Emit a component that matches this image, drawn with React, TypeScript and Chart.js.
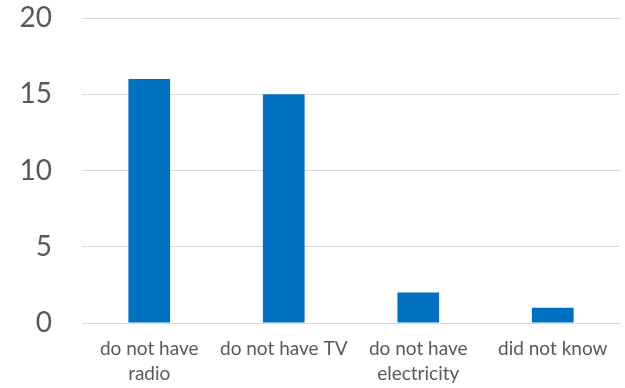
import React, { useEffect, useRef } from "react";
import { Chart, registerables } from "chart.js";

Chart.register(...registerables);

const categories: (string | string[])[] = [
  ["do not have", "radio"],
  "do not have TV",
  ["do not have", "electricity"],
  "did not know",
];
const counts = [16, 15, 2, 1];
const yTicks = [0, 5, 10, 15, 20];

export default function App() {
  const ref = useRef<HTMLCanvasElement | null>(null);

  useEffect(() => {
    document.body.style.margin = "0";
    const canvas = ref.current;
    if (!canvas) return;
    const chart = new Chart(canvas, {
      type: "bar",
      data: {
        labels: categories,
        datasets: [
          {
            data: counts,
            backgroundColor: "#0070C0",
            borderWidth: 0,
            barPercentage: 0.31,
            categoryPercentage: 1,
          },
        ],
      },
      options: {
        responsive: false,
        animation: false,
        maintainAspectRatio: false,
        layout: { padding: { top: 18, right: 5, left: 0, bottom: 0 } },
        plugins: { legend: { display: false }, tooltip: { enabled: false } },
        scales: {
          x: {
            grid: { display: false, drawTicks: false },
            border: { display: true, color: "#d9d9d9", width: 1 },
            ticks: {
              color: "#595959",
              font: { family: "Lato", size: 19, lineHeight: 1.3 },
              padding: 14,
              maxRotation: 0,
              autoSkip: false,
            },
            afterFit: (s: any) => {
              s.height = 65;
              s.paddingLeft = 0;
              s.paddingRight = 0;
            },
          },
          y: {
            min: 0,
            max: 20,
            afterBuildTicks: (s: any) => {
              s.ticks = yTicks.map((v) => ({ value: v }));
            },
            grid: { color: "#d9d9d9", lineWidth: 1, drawTicks: false },
            border: { display: false },
            ticks: {
              color: "#595959",
              font: { family: "Lato", size: 28 },
              padding: 30,
            },
            afterFit: (s: any) => {
              s.width = 82;
              s.paddingTop = 0;
              s.paddingBottom = 0;
            },
          },
        },
      },
    });
    return () => chart.destroy();
  }, []);

  return (
    <div style={{ width: 625, height: 388, background: "#fff" }}>
      <canvas ref={ref} width={625} height={388} />
    </div>
  );
}
